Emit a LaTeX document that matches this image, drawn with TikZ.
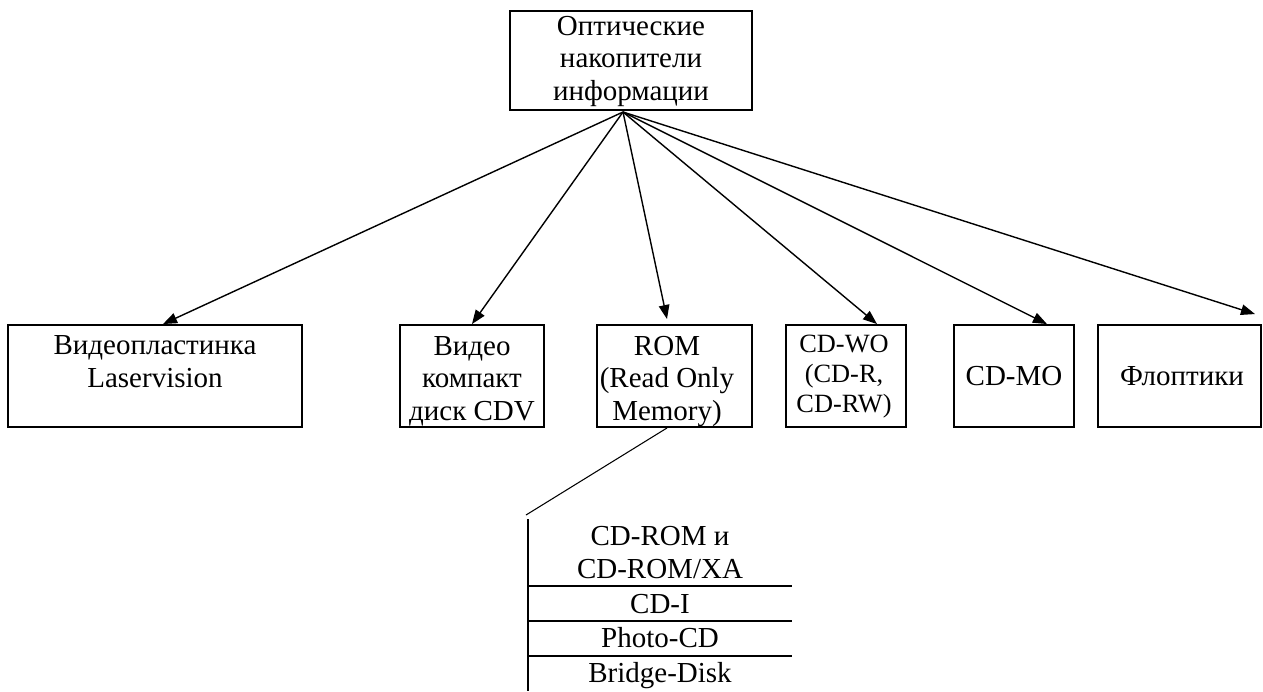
\documentclass[tikz,border=0pt]{standalone}
\usepackage{fontspec}
\setmainfont{Liberation Serif}
\usetikzlibrary{arrows.meta}

\begin{document}
\begin{tikzpicture}[x=0.02cm, y=-0.02cm,
		box/.style = {draw, line width=1.1pt, inner sep=0pt},
		txt/.style = {align=center, inner sep=0pt, anchor=base, font=\fontsize{16.5}{18.4}\selectfont},
		small/.style = {txt, font=\fontsize{15}{17}\selectfont},
		link/.style = {line width=0.8pt, -{Triangle[length=8pt,width=6pt]}},
		rule/.style = {line width=1.1pt}]
		\useasboundingbox (0,0) rectangle (1263,691);
		% boxes
		\node[box, minimum width=4.84cm, minimum height=1.98cm] (top) at (631,60.5) {};
		\node[box, minimum width=5.88cm, minimum height=2.04cm] (b1) at (155,376) {};
		\node[box, minimum width=2.88cm, minimum height=2.04cm] (b2) at (472,376) {};
		\node[box, minimum width=3.10cm, minimum height=2.04cm] (b3) at (674.5,376) {};
		\node[box, minimum width=2.40cm, minimum height=2.04cm] (b4) at (846,376) {};
		\node[box, minimum width=2.40cm, minimum height=2.04cm] (b5) at (1014,376) {};
		\node[box, minimum width=3.26cm, minimum height=2.04cm] (b6) at (1179.5,376) {};
		% texts (base = last line)
		\node[txt] (t0) at (631,100) {Оптические\\накопители\\информации};
		\node[txt] (t1) at (155,387) {Видеопластинка\\Laservision};
		\node[txt] (t2) at (472,420) {Видео\\компакт\\диск CDV};
		\node[txt] (t3) at (667,420) {ROM\\(Read Only\\Memory)};
		\node[small] (t4) at (844,412) {CD-WO\\(CD-R,\\CD-RW)};
		\node[txt] (t5) at (1014,385) {CD-MO};
		\node[txt] (t6) at (1182,385) {Флоптики};
		% arrows
		\coordinate (hub) at (623,112);
		\draw[link] (hub) -- ([xshift=0.16cm]b1.north);
		\draw[link] (hub) -- (b2.north);
		\draw[link] (hub) -- ([xshift=-0.15cm,yshift=0.1cm]b3.north);
		\draw[link] (hub) -- ([xshift=0.62cm]b4.north);
		\draw[link] (hub) -- ([xshift=0.66cm]b5.north);
		\draw[link] (hub) -- ([xshift=1.51cm,yshift=0.2cm]b6.north);
		% ROM list
		\coordinate (lst) at (526,515);
		\draw[line width=0.6pt] ([xshift=-0.15cm]b3.south) -- (lst);
		\draw[rule] (528,519) -- (528,691);
		\foreach \y in {586,621,656}
			\draw[rule] (528,\y) -- (792,\y);
		\node[txt] (r1) at (660,578) {CD-ROM и\\CD-ROM/XA};
		\node[txt] (r2) at (660,613) {CD-I};
		\node[txt] (r3) at (660,647) {Photo-CD};
		\node[txt] (r4) at (660,682) {Bridge-Disk};
	\end{tikzpicture}
\end{document}
